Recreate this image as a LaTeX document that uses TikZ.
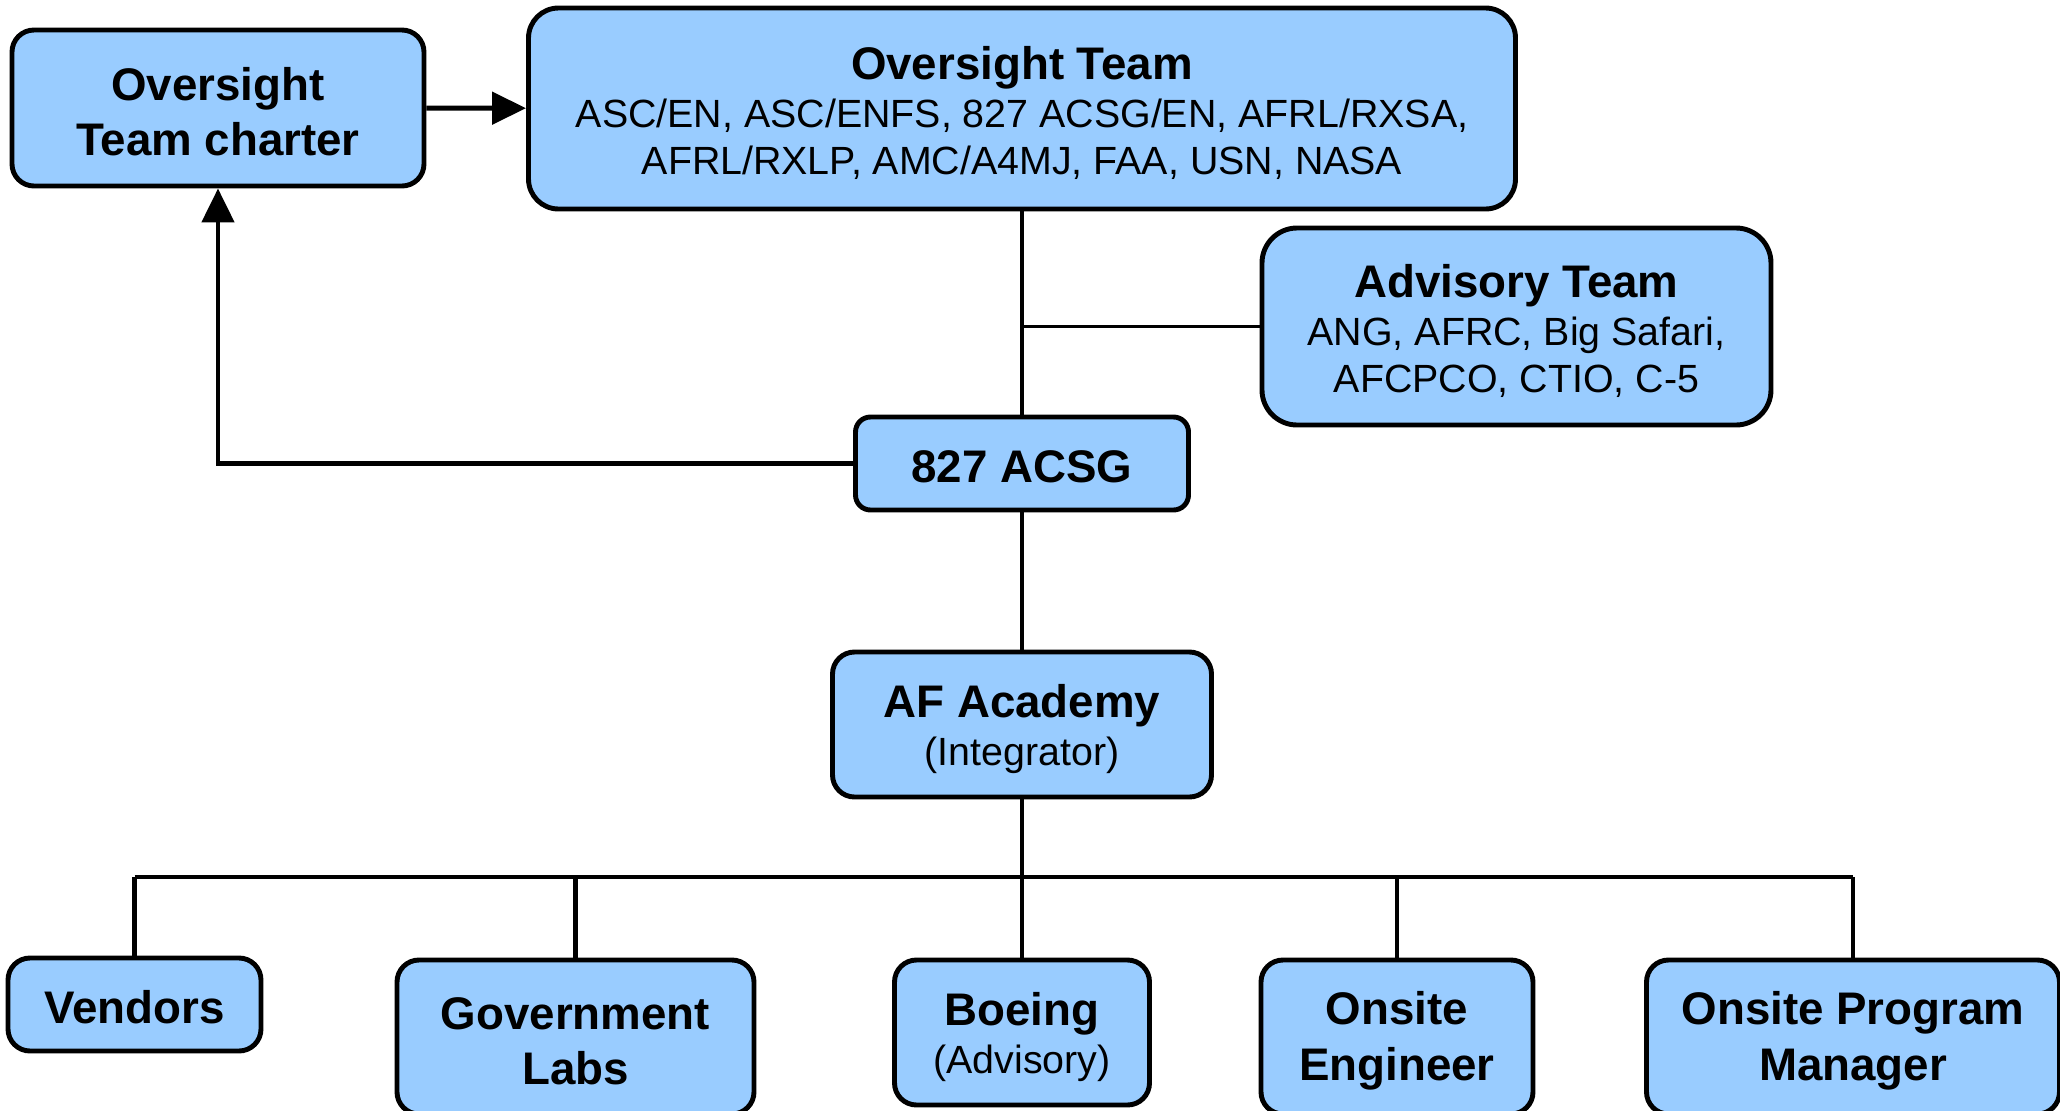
\documentclass[tikz,border=0pt]{standalone}
\usepackage{fontspec}
\setmainfont{Liberation Sans}
\usetikzlibrary{arrows.meta,positioning}
\definecolor{boxblue}{RGB}{153,204,255}
\newcommand{\titlefont}{\bfseries\fontsize{13}{13.6}\selectfont}
\newcommand{\lift}[1]{\rule{0pt}{#1pt}}

\begin{document}
\begin{tikzpicture}[
  box/.style={draw, line width=1.4pt, rounded corners=0.22cm, fill=boxblue, align=center, inner sep=0pt, font=\fontsize{11.2}{13.6}\selectfont},
  boldbox/.style={box, font=\bfseries\fontsize{13}{15.8}\selectfont},
  link/.style={line width=1.4pt},
  >={Triangle[length=0.34cm,width=0.32cm]}]
  \useasboundingbox (0,0) rectangle (20.6,-11.11);

  \node[boldbox, minimum width=4.12cm, minimum height=1.56cm]                      (charter)   at (2.18,-1.08)   {\lift{11.5}Oversight\\Team charter};
  \node[box, minimum width=9.87cm, minimum height=2.01cm, rounded corners=0.3cm]   (oversight) at (10.22,-1.085) {{\titlefont\lift{12}Oversight Team}\\ASC/EN, ASC/ENFS, 827 ACSG/EN, AFRL/RXSA,\\AFRL/RXLP, AMC/A4MJ, FAA, USN, NASA};
  \node[box, minimum width=5.09cm, minimum height=1.97cm, rounded corners=0.35cm]  (advisory)  at (15.165,-3.265) {{\titlefont\lift{12}Advisory Team}\\ANG, AFRC, Big Safari,\\AFCPCO, CTIO, C-5};
  \node[boldbox, minimum width=3.33cm, minimum height=0.93cm, rounded corners=0.15cm] (acsg)    at (10.22,-4.635) {\lift{11.1}827 ACSG};
  \node[box, minimum width=3.79cm, minimum height=1.45cm]                          (academy)   at (10.22,-7.245) {{\titlefont\lift{12}AF Academy}\\(Integrator)};

  % bottom row
  \node[boldbox, minimum width=2.53cm, minimum height=0.93cm]  (vendors)   at (1.345,-10.045) {\lift{11.1}Vendors};
  \node[boldbox, minimum width=3.57cm, minimum height=1.54cm]  (govlabs)   at (5.755,-10.37)  {\lift{11.5}Government\\Labs};
  \node[box, minimum width=2.55cm, minimum height=1.45cm]      (boeing)    at (10.22,-10.325) {{\titlefont\lift{12}Boeing}\\(Advisory)};
  \node[boldbox, minimum width=2.72cm, minimum height=1.54cm]  (onsiteeng) at (13.97,-10.37)  {\lift{11.5}Onsite\\Engineer};
  \node[boldbox, minimum width=4.13cm, minimum height=1.54cm]  (onsitepm)  at (18.53,-10.37)  {\lift{11.5}Onsite Program\\Manager};

  \coordinate (tap) at (oversight.south |- advisory.west);
  \coordinate (bus) at (10.22,-8.77);

  \draw[link,->] (charter) -- (oversight);
  \draw[link] (oversight) -- (acsg);
  \draw[line width=0.9pt] (advisory) -- (tap);
  \draw[link,->] (acsg.west) -| (charter.south);
  \draw[link] (acsg) -- (academy);
  \draw[link] (academy) -- (bus);
  \draw[link] (bus -| vendors.north) -- (bus -| onsitepm.north);
  \foreach \n in {vendors,govlabs,boeing,onsiteeng,onsitepm}
    \draw[link] (bus -| \n.north) -- (\n.north);
\end{tikzpicture}
\end{document}
